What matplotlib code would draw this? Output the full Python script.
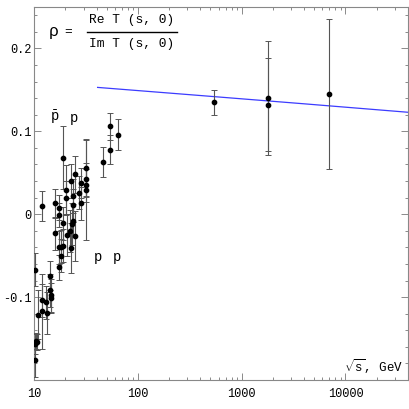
import numpy as np
import matplotlib
matplotlib.use("Agg")
import matplotlib.pyplot as plt
from matplotlib.ticker import FixedLocator, MultipleLocator, LogLocator, NullFormatter

plt.rcParams['font.family'] = ['Liberation Mono', 'DejaVu Sans Mono']
plt.rcParams['mathtext.fontset'] = 'custom'
plt.rcParams['mathtext.rm'] = 'Liberation Mono'
plt.rcParams['mathtext.it'] = 'Liberation Mono'

# low energy data (pp and p-bar p)
sqrt_s_low = [10.16, 10.29, 10.45, 10.62, 10.29, 11.0, 11.86, 11.94, 12.02, 13.04,
              13.24, 14.25, 14.47, 14.47, 14.25, 15.92, 15.92, 17.26, 17.5, 17.5,
              17.5, 18.07, 18.2, 18.89, 18.89, 19.14, 20.18, 20.18, 20.63, 22.2,
              22.57, 22.7, 23.0, 23.5, 23.9, 23.9, 24.78, 24.78, 26.9, 28.3,
              28.3, 31.6, 31.6, 31.6, 31.6, 45.8, 53.8, 53.8, 64.2]
rho_low = [-0.067, -0.157, -0.153, -0.154, -0.176, -0.121, -0.117, -0.104, 0.010, -0.106,
           -0.119, -0.092, -0.098, -0.101, -0.074, 0.013, -0.023, -0.064, 0.008, -0.001,
           -0.040, -0.050, -0.039, 0.068, -0.011, -0.038, 0.029, 0.020, -0.025, -0.020,
           -0.041, 0.040, -0.012, 0.022, -0.008, 0.011, 0.048, -0.026, 0.026, 0.038,
           0.013, 0.056, 0.042, 0.035, 0.029, 0.063, 0.106, 0.078, 0.096]
err_low = [0.02, 0.012, 0.01, 0.01, 0.02, 0.03, 0.045, 0.02, 0.018, 0.02,
           0.025, 0.02, 0.02, 0.018, 0.018, 0.018, 0.02, 0.015, 0.015, 0.015,
           0.02, 0.02, 0.02, 0.038, 0.02, 0.02, 0.03, 0.02, 0.025, 0.025,
           0.03, 0.02, 0.025, 0.02, 0.02, 0.02, 0.022, 0.03, 0.02, 0.018,
           0.02, 0.035, 0.02, 0.02, 0.06, 0.018, 0.016, 0.018, 0.019]

# collider data
sqrt_s_high = [546, 1800, 1800, 7000]
rho_high = [0.135, 0.140, 0.132, 0.145]
err_high = [0.015, 0.069, 0.056, 0.091]

# model curve
sqrt_s_fit = [41, 400, 4000, 40000]
rho_fit = [0.153, 0.1432, 0.1332, 0.123]

W, H = 409, 409
fig = plt.figure(figsize=(W / 100, H / 100), dpi=100)
ax = fig.add_axes([34 / W, 1 - 380 / H, (408 - 34) / W, (380 - 7) / H])

ax.plot(sqrt_s_fit, rho_fit, color='#3c3cff', lw=0.9, zorder=2)

for xs, ys, es in [(sqrt_s_low, rho_low, err_low), (sqrt_s_high, rho_high, err_high)]:
    ax.errorbar(xs, ys, yerr=es, fmt='o', color='black', ms=3.1,
                ecolor='#555555', elinewidth=0.8, capsize=2.2, capthick=0.7, zorder=3)

ax.set_xscale('log')
ax.set_xlim(10, 40000)
ax.set_ylim(-0.2, 0.25)

ax.xaxis.set_major_locator(FixedLocator([10, 100, 1000, 10000]))
ax.xaxis.set_minor_locator(LogLocator(base=10, subs=np.arange(2, 10)))
ax.xaxis.set_minor_formatter(NullFormatter())
ax.set_xticklabels(['10', '100', '1000', '10000'])
ax.yaxis.set_major_locator(FixedLocator([-0.1, 0, 0.1, 0.2]))
ax.yaxis.set_minor_locator(MultipleLocator(0.02))
ax.set_yticklabels(['-0.1', '0', '0.1', '0.2'])

ax.tick_params(which='both', direction='in', top=True, right=True, color='#777777', width=0.6)
ax.tick_params(which='major', length=5, labelsize=8.6)
ax.tick_params(axis='x', which='major', pad=6)
ax.tick_params(axis='y', which='major', pad=2)
ax.tick_params(which='minor', length=2.5)
for sp in ax.spines.values():
    sp.set_color('#888888')
    sp.set_linewidth(0.8)


def px(x, y):
    return x / W, 1 - y / H


fs = 9.3
fig.text(*px(53, 32), r'$\rho$', fontsize=12, family='DejaVu Sans', ha='center', va='center',
         style='italic', weight='bold')
fig.text(*px(68, 32), '=', fontsize=fs, ha='center', va='center')
fig.text(*px(132, 20), 'Re T (s, 0)', fontsize=fs, ha='center', va='center')
fig.text(*px(132, 44), 'Im T (s, 0)', fontsize=fs, ha='center', va='center')
fig.add_artist(plt.Line2D([87 / W, 177 / W], [1 - 32 / H, 1 - 32 / H], color='black', lw=1.0))

fig.text(*px(55, 117), r'$\bar{\mathrm{p}}$', fontsize=10, ha='center', va='center')
fig.text(*px(74, 118), 'p', fontsize=10, ha='center', va='center')
fig.text(*px(98, 257), 'p', fontsize=10, ha='center', va='center')
fig.text(*px(117, 257), 'p', fontsize=10, ha='center', va='center')

fig.text(*px(403, 367), r'$\sqrt{\mathrm{s}}$, GeV', fontsize=9, ha='right', va='center')

fig.savefig('out.png', dpi=100)
